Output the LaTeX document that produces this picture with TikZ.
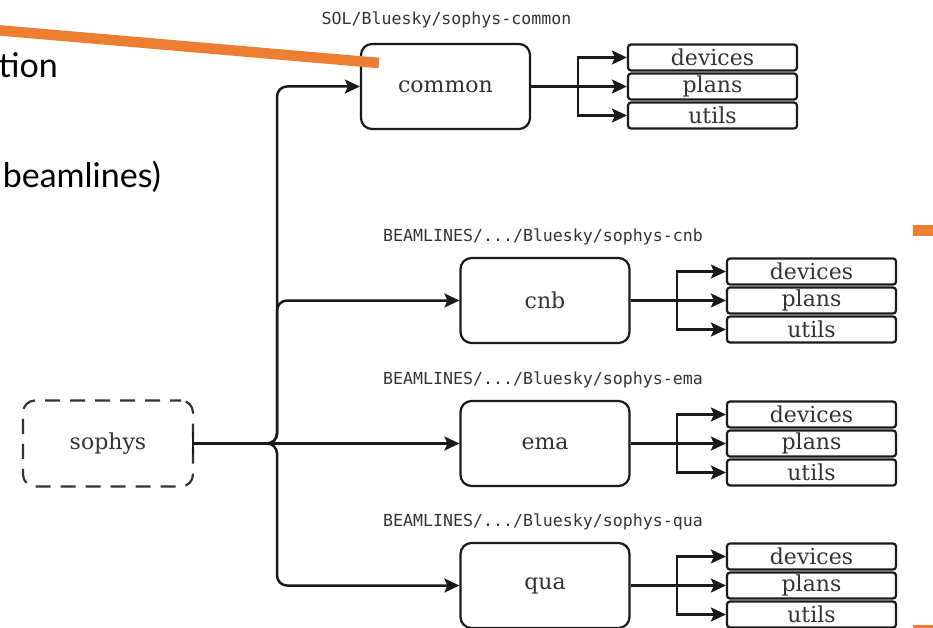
\documentclass[tikz,border=0pt]{standalone}
\usepackage{fontspec}
\setmainfont{DejaVu Serif}
\newfontfamily\slidefont{Lato}
\newfontfamily\pathfont{DejaVu Sans Mono}
\usetikzlibrary{arrows.meta}

\definecolor{slideorange}{HTML}{ED7D31}
\definecolor{ink}{HTML}{1A1A1A}
\definecolor{txt}{HTML}{333333}

\tikzset{
  boxfont/.style={font=\fontsize{22}{26}\selectfont},
  modbox/.style={draw=ink, line width=2.2pt, rounded corners=11pt,
    minimum width=169pt, minimum height=85pt, inner sep=0pt, text=txt, boxfont},
  subbox/.style={draw=ink, line width=2.2pt, rounded corners=3pt,
    minimum width=169pt, minimum height=26pt, inner sep=0pt, text=txt, boxfont},
  rootbox/.style={draw=txt, line width=2.2pt, rounded corners=12pt,
    dash pattern=on 15pt off 10pt, dash phase=4pt,
    minimum width=170pt, minimum height=86pt, inner sep=0pt, text=txt, boxfont},
  pathlabel/.style={inner sep=0pt, text=txt, font=\pathfont\fontsize{16.6}{18}\selectfont},
  link/.style={draw=ink, line width=2.5pt,
    -{Stealth[length=15pt, width=14pt, inset=3pt]}},
  slidetext/.style={inner sep=0pt, anchor=base east, text=black,
    font=\slidefont\fontsize{34}{40}\selectfont},
}

\begin{document}
\begin{tikzpicture}[x=1pt, y=-1pt]
  \useasboundingbox (0,0) rectangle (933,628);
  \clip (0,0) rectangle (933,628);

  % slide text running in from the left
  \node[slidetext] (txtA) at (58,78) {tion};
  \node[slidetext] (txtB) at (161,188) {beamlines)};

  % root package
  \node[rootbox] (sophys) at (108,443.5) {sophys};
  \draw[ink, line width=2.5pt] (193,432) -- (193,455);

  % shared package
  \node[modbox] (common) at (445.5,86.5) {common};
  \node[pathlabel] (common-path) at (446.5,20) {SOL/Bluesky/sophys-common};
  \node[subbox] (common-dev) at (712.5,57.5) {devices};
  \node[subbox] (common-pla) at (712.5,86.5) {plans};
  \node[subbox] (common-uti) at (712.5,115.5) {utils};
  \coordinate (common-fork) at (578,86.5);

  % beamline packages
  \foreach \bl/\y in {cnb/300.5, ema/443.5, qua/585.5} {
    \node[modbox] (\bl) at (545,\y) {\bl};
    \node[pathlabel] (\bl-path) at (543,\y-64) {BEAMLINES/.../Bluesky/sophys-\bl};
    \node[subbox] (\bl-dev) at (811.5,\y-29) {devices};
    \node[subbox] (\bl-pla) at (811.5,\y) {plans};
    \node[subbox] (\bl-uti) at (811.5,\y+29) {utils};
    \coordinate (\bl-fork) at (677,\y);
  }

  % sub-module fan-out
  \foreach \m in {common, cnb, ema, qua} {
    \draw[link] (\m.east) -- (\m-fork) |- (\m-dev.west);
    \draw[link] (\m.east) -- (\m-pla.west);
    \draw[link] (\m.east) -- (\m-fork) |- (\m-uti.west);
  }

  % root to packages
  \coordinate (trunk) at (277,443.5);
  \draw[link, rounded corners=10pt] (sophys.east) -- (trunk) |- (common.west);
  \draw[link, rounded corners=10pt] (sophys.east) -- (trunk) |- (cnb.west);
  \draw[link] (sophys.east) -- (ema.west);
  \draw[link, rounded corners=10pt] (sophys.east) -- (trunk) |- (qua.west);

  % slide accents
  \draw[slideorange, line width=10.5pt] (-5,30) -- (379,63);
  \fill[slideorange] (913,225) rectangle (940,235.5);
  \fill[slideorange] (913,625) rectangle (940,630);
\end{tikzpicture}
\end{document}
